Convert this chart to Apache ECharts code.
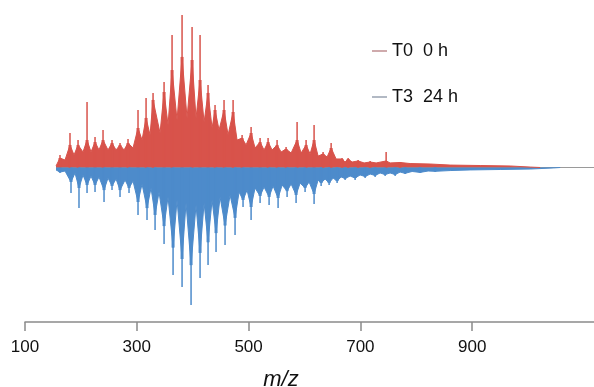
<!DOCTYPE html>
<html>
<head>
<meta charset="utf-8">
<script src="https://cdn.jsdelivr.net/npm/echarts@6/dist/echarts.min.js"></script>
<style>
html,body{margin:0;padding:0;background:#fff;overflow:hidden;}
#chart{width:594px;height:387px;}
</style>
</head>
<body>
<div id="chart"></div>
<script>
// ---- data (m/z, relative intensity) ----
const xTicks = [100, 300, 500, 700, 900];
const seriesNames = ['T0  0 h', 'T3  24 h'];

// T0 0 h (upward, red)
const t0PeakMz   = [162.6,180.5,194.9,211.0,225.3,239.6,255.7,270.0,284.3,302.2,316.6,329.1,348.8,363.1,381.0,398.9,413.2,427.5,440.0,456.1,472.3,488.4,504.5,520.6,534.9,551.0,567.1,586.8,602.9,617.2,633.3,647.7,667.3,678.1,696.0,717.5,746.1,771.1];
const t0PeakTop  = [8.2,22.6,18.0,43.0,20.0,24.6,18.0,16.1,18.7,37.7,45.6,48.9,56.1,86.9,100,92.1,86.9,54.1,41.0,44.3,44.3,21.3,26.6,19.3,19.3,18.0,13.4,29.8,18.0,27.9,10.2,16.1,6.2,6.2,4.9,4.3,10.2,3.6];
const t0PeakBody = [6.2,14.8,14.8,18.0,16.7,18.0,16.1,14.8,16.1,25.9,32.5,44.3,49.5,63.9,72.5,70.5,57.4,48.9,37.7,37.7,36.4,19.3,22.6,16.7,16.7,14.8,12.1,18.0,14.8,18.0,8.9,12.8,5.6,5.6,4.3,3.6,4.3,3.3];
const t0ValleyMz = [155.5,171.6,187.7,203.8,218.1,232.4,248.5,262.9,277.2,293.3,309.4,323.7,341.6,355.9,372.0,389.9,406.0,420.4,434.7,447.2,463.3,479.4,495.5,511.6,527.7,542.1,558.2,576.1,594.0,610.1,624.4,640.5,656.6,672.7,685.2,706.7,728.2,753.2,789.0,824.8,860.6,914.3,968.0,1003.8,1021.7];
const t0Valley   = [1.0,4.9,8.2,10.2,10.2,11.5,11.5,11.5,11.5,12.8,18.0,21.3,22.6,27.9,31.1,32.5,32.5,29.8,25.9,24.6,21.3,18.0,14.8,12.8,11.5,11.5,10.2,9.5,9.5,8.9,7.5,6.9,5.6,3.6,3.6,3.0,3.0,3.0,2.6,2.3,1.6,1.3,1.0,0.3,0];

// T3 24 h (downward, blue)
const t3PeakMz   = [162.6,182.3,196.6,211.0,225.3,241.4,255.7,270.0,286.1,302.2,318.3,332.7,348.8,364.9,381.0,397.1,413.2,427.5,441.8,457.9,475.8,490.1,504.5,520.6,536.7,552.8,568.9,585.0,601.1,617.2,629.8,644.1,658.4,672.7,690.6,708.5,726.4,744.3,762.2,780.1,806.9,833.8];
const t3PeakTop  = [-3.6,-16.7,-26.6,-16.7,-16.1,-22.6,-14.8,-19.3,-16.7,-31.1,-34.4,-41.0,-50.2,-70.5,-78.4,-90.2,-72.5,-63.9,-55.4,-50.8,-44.3,-25.9,-34.4,-23.3,-24.6,-26.6,-19.3,-23.3,-16.1,-23.9,-12.1,-11.5,-10.2,-8.2,-8.2,-6.9,-6.2,-5.6,-5.6,-4.3,-3.6,-3.0];
const t3PeakBody = [-3.0,-9.5,-13.4,-11.5,-11.5,-14.8,-12.1,-14.8,-13.4,-22.6,-26.6,-31.1,-38.4,-52.5,-60.0,-64.0,-56.0,-49.0,-43.0,-38.0,-33.0,-21.3,-25.9,-18.7,-19.3,-20.0,-15.5,-18.0,-13.4,-17.4,-10.2,-10.2,-8.9,-7.2,-6.9,-5.9,-5.2,-4.6,-4.6,-3.8,-3.2,-2.5];
const t3ValleyMz = [155.5,171.6,189.5,203.8,218.1,232.4,248.5,262.9,279.0,293.3,309.4,325.5,339.8,355.9,372.0,388.1,406.0,420.4,434.7,449.0,466.9,483.0,497.3,511.6,527.7,543.8,560.0,576.1,592.2,608.3,624.4,636.9,651.2,665.5,681.7,699.5,717.5,735.3,753.2,771.1,792.6,821.2,860.6,896.4,950.1,1003.8,1045.0,1057.5];
const t3Valley   = [-1.6,-2.3,-3.6,-4.9,-5.6,-6.2,-6.9,-7.5,-8.2,-8.9,-10.8,-13.4,-16.1,-19.3,-21.3,-23.3,-24.6,-23.3,-21.3,-19.3,-18.0,-16.1,-14.8,-13.4,-12.8,-12.1,-11.5,-10.8,-10.2,-9.5,-8.2,-7.5,-6.9,-6.2,-5.6,-4.9,-4.3,-3.6,-3.6,-3.0,-2.6,-2.3,-2.0,-1.6,-1.3,-1.0,-0.3,0];

const baseRange = [155.5, 1118];

// ---- build series data ----
function envelope(pMz, pBody, vMz, vVal) {
  const pts = [];
  pMz.forEach((m, i) => pts.push([m, pBody[i]]));
  vMz.forEach((m, i) => pts.push([m, vVal[i]]));
  pts.sort((a, b) => a[0] - b[0]);
  return pts;
}
function pairs(pMz, vals) { return pMz.map((m, i) => [m, vals[i]]); }

const RED = '#d8534b', BLUE = '#4d8bcb';
const FONT = '"Liberation Sans", Arial, sans-serif';

function hiddenX() {
  return {type: 'value', min: 100, max: 1118, show: false, splitLine: {show: false}};
}

const chart = echarts.init(document.getElementById('chart'), null, {renderer: 'canvas'});
chart.setOption({
  animation: false,
  backgroundColor: '#fff',
  grid: {left: 25, right: 0, top: 15, bottom: 65, containLabel: false, outerBoundsMode: 'none'},
  legend: {
    orient: 'vertical', left: 372, top: 41, padding: 0, itemGap: 26,
    itemWidth: 15, itemHeight: 2, icon: 'rect',
    textStyle: {fontFamily: FONT, fontSize: 18, color: '#111', lineHeight: 20},
    data: [
      {name: seriesNames[0], itemStyle: {color: '#cfaaac'}},
      {name: seriesNames[1], itemStyle: {color: '#b2b9c4'}}
    ],
    selectedMode: false
  },
  xAxis: [{
    type: 'value', min: 100, max: 1118,
    axisLine: {show: true, onZero: false, lineStyle: {color: '#8a8a8a', width: 1.5}},
    axisTick: {show: true, length: 9, lineStyle: {color: '#8a8a8a', width: 1.5}, customValues: xTicks},
    axisLabel: {show: true, margin: 17, fontFamily: FONT, fontSize: 17, color: '#111', customValues: xTicks},
    splitLine: {show: false}
  }, hiddenX(), hiddenX(), hiddenX(), hiddenX()],
  yAxis: {type: 'value', min: -101.3, max: 100, show: false, splitLine: {show: false}},
  graphic: [{
    type: 'text', x: 281, y: 391,
    style: {text: 'm/z', fontFamily: FONT, fontSize: 22, fontStyle: 'italic', fill: '#111', align: 'center', verticalAlign: 'bottom'}
  }],
  series: [
    {type: 'line', name: 'base', data: [[baseRange[0], 0], [baseRange[1], 0]], symbol: 'none',
     lineStyle: {color: '#9a9a9a', width: 1.2}, z: 1, silent: true},
    {type: 'line', name: seriesNames[0], data: envelope(t0PeakMz, t0PeakBody, t0ValleyMz, t0Valley),
     symbol: 'none', color: RED, lineStyle: {width: 1, color: RED}, areaStyle: {color: RED, opacity: 1}, z: 2},
    {type: 'line', name: seriesNames[1], data: envelope(t3PeakMz, t3PeakBody, t3ValleyMz, t3Valley),
     symbol: 'none', color: BLUE, lineStyle: {width: 1, color: BLUE}, areaStyle: {color: BLUE, opacity: 1}, z: 2},
    {type: 'bar', name: seriesNames[0], xAxisIndex: 1, data: pairs(t0PeakMz, t0PeakBody), barWidth: 3,
     itemStyle: {color: RED}, z: 3},
    {type: 'bar', name: seriesNames[1], xAxisIndex: 2, data: pairs(t3PeakMz, t3PeakBody), barWidth: 3,
     itemStyle: {color: BLUE}, z: 3},
    {type: 'bar', name: seriesNames[0], xAxisIndex: 3, data: pairs(t0PeakMz, t0PeakTop), barWidth: 1.5,
     itemStyle: {color: RED}, z: 4},
    {type: 'bar', name: seriesNames[1], xAxisIndex: 4, data: pairs(t3PeakMz, t3PeakTop), barWidth: 1.5,
     itemStyle: {color: BLUE}, z: 4}
  ]
});
</script>
</body>
</html>
